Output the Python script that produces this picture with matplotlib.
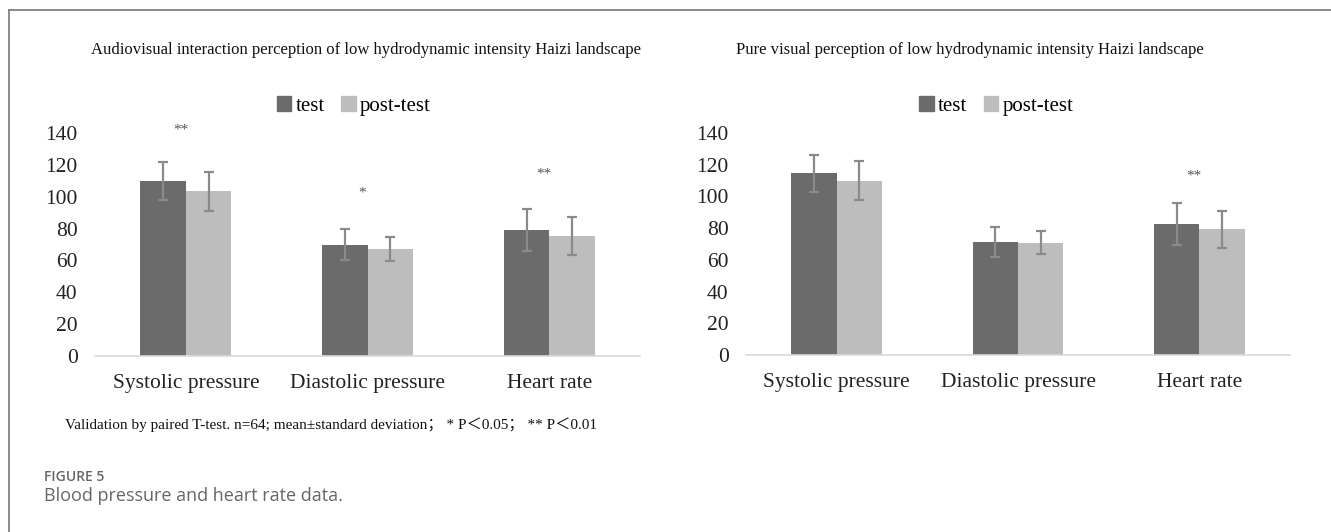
"""
Blood pressure and heart rate - paired test / post-test bars
"""
import matplotlib
matplotlib.use("Agg")
import matplotlib.pyplot as plt
from matplotlib.patches import Patch
from matplotlib.lines import Line2D
import numpy as np

# Datos
categorias = ["Systolic pressure", "Diastolic pressure", "Heart rate"]
series = ["test", "post-test"]

av_test = [110.0, 70.0, 79.0]
av_test_sd = [12.0, 9.7, 13.2]
av_post = [103.5, 67.0, 75.2]
av_post_sd = [12.2, 7.5, 12.0]
av_sig = ["**", "*", "**"]
av_sig_y = [142, 102, 114]

pv_test = [114.6, 71.3, 82.7]
pv_test_sd = [11.7, 9.5, 13.1]
pv_post = [110.0, 70.8, 79.2]
pv_post_sd = [12.1, 7.4, 11.8]
pv_sig = ["", "", "**"]
pv_sig_y = [0, 0, 113]

y_ticks = [0, 20, 40, 60, 80, 100, 120, 140]

titulo_av = "Audiovisual interaction perception of low hydrodynamic intensity Haizi landscape"
titulo_pv = "Pure visual perception of low hydrodynamic intensity Haizi landscape"
nota = "Validation by paired T-test. n=64; mean\u00b1standard deviation\uff1b * P\uff1c0.05\uff1b ** P\uff1c0.01"

COLOR_TEST = "#6b6b6b"
COLOR_POST = "#bdbdbd"
COLOR_ERR = "#8a8a8a"
SERIF = ["Liberation Serif", "Noto Sans CJK SC", "DejaVu Serif"]
SANS = ["Open Sans", "DejaVu Sans"]

fig = plt.figure(figsize=(13.31, 5.32), dpi=100)


def dibujar_panel(ax, test, test_sd, post, post_sd, sig, sig_y, ley_x):
    x = np.arange(len(categorias))
    w = 0.25
    ax.bar(x - w / 2, test, w, color=COLOR_TEST, zorder=2)
    ax.bar(x + w / 2, post, w, color=COLOR_POST, zorder=2)
    ax.errorbar(x - w / 2, test, yerr=test_sd, fmt="none", ecolor=COLOR_ERR,
                elinewidth=1.6, capsize=3.5, capthick=1.6, zorder=3)
    ax.errorbar(x + w / 2, post, yerr=post_sd, fmt="none", ecolor=COLOR_ERR,
                elinewidth=1.6, capsize=3.5, capthick=1.6, zorder=3)
    for xi, s, yi in zip(x, sig, sig_y):
        if s:
            ax.text(xi - 0.03, yi, s, ha="center", va="center", fontsize=11,
                    color="#555555", family=SERIF)

    ax.set_xlim(-0.5, len(categorias) - 0.5)
    ax.set_ylim(0, 140)
    ax.set_yticks(y_ticks)
    ax.set_yticklabels([str(t) for t in y_ticks], family=SERIF, fontsize=15.5,
                       color="#222222")
    ax.set_xticks(x)
    ax.set_xticklabels(categorias, family=SERIF, fontsize=15.5, color="#222222")
    ax.tick_params(axis="both", length=0)
    ax.tick_params(axis="y", pad=12.5)
    ax.tick_params(axis="x", pad=13)
    for lado in ["top", "right", "left"]:
        ax.spines[lado].set_visible(False)
    ax.spines["bottom"].set_color("#d9d9d9")
    ax.spines["bottom"].set_linewidth(1.2)

    handles = [Patch(color=COLOR_TEST), Patch(color=COLOR_POST)]
    ax.legend(handles, series, loc="lower center", bbox_to_anchor=(ley_x, 1.04),
              ncol=2, frameon=False, prop={"family": SERIF, "size": 15},
              handlelength=0.7, handleheight=0.7, handletextpad=0.2,
              columnspacing=0.8, borderaxespad=0)


ax1 = fig.add_axes([0.0714, 0.3308, 0.4095, 0.4192])
dibujar_panel(ax1, av_test, av_test_sd, av_post, av_post_sd, av_sig, av_sig_y, 0.475)
ax2 = fig.add_axes([0.5605, 0.3327, 0.4087, 0.4173])
dibujar_panel(ax2, pv_test, pv_test_sd, pv_post, pv_post_sd, pv_sig, pv_sig_y, 0.46)

# Titulos
fig.text(366 / 1331, 1 - 50 / 532, titulo_av, ha="center", va="center",
         family=SERIF, fontsize=12, color="#111111")
fig.text(970 / 1331, 1 - 50 / 532, titulo_pv, ha="center", va="center",
         family=SERIF, fontsize=12, color="#111111")

# Nota
fig.text(65 / 1331, 1 - 425 / 532, nota, ha="left", va="center",
         family=SERIF, fontsize=11, color="#111111")

# Pie de figura
fig.text(44 / 1331, 1 - 477 / 532, "FIGURE 5", ha="left", va="center",
         family=SANS, fontsize=10, fontweight="semibold", color="#666666")
fig.text(44 / 1331, 1 - 496 / 532, "Blood pressure and heart rate data.",
         ha="left", va="center", family=SANS, fontsize=13, color="#666666")

# Marco
fig.add_artist(Line2D([9 / 1331, 1], [1 - 9.5 / 532, 1 - 9.5 / 532],
                      color="#777777", linewidth=1.2))
fig.add_artist(Line2D([9 / 1331, 9 / 1331], [0, 1 - 9.5 / 532],
                      color="#777777", linewidth=1.2))

fig.savefig("out.png", dpi=100)
plt.close(fig)
